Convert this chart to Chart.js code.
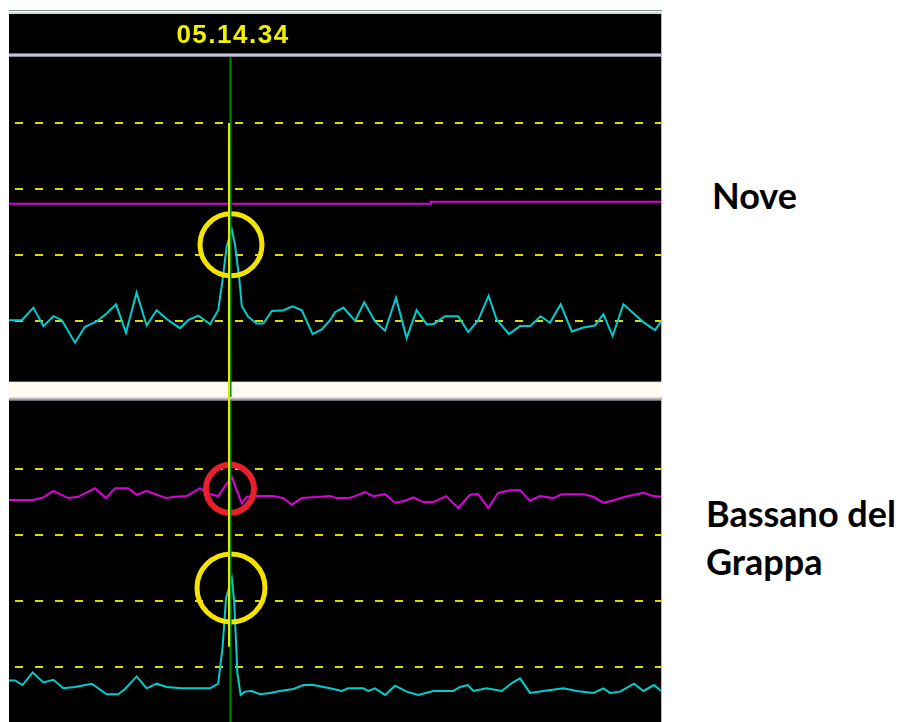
<!DOCTYPE html>
<html>
<head>
<meta charset="utf-8">
<script src="https://cdn.jsdelivr.net/npm/chart.js@4/dist/chart.umd.min.js"></script>
<style>
  html, body { margin: 0; padding: 0; background: #ffffff; width: 907px; height: 722px; overflow: hidden; }
  .panel { position: absolute; }
  .site {
    position: absolute;
    font-family: Lato, "Open Sans", sans-serif;
    font-weight: 700;
    font-size: 36px;
    line-height: 36px;
    color: #000;
    white-space: nowrap;
  }
</style>
</head>
<body>
<div class="panel" style="left:9px;top:10px;width:654px;height:387px"><canvas id="nove" width="654" height="387"></canvas></div>
<div class="panel" style="left:9px;top:397px;width:654px;height:325px"><canvas id="bassano" width="654" height="325"></canvas></div>
<div class="site" style="left:712px;top:177px">Nove</div>
<div class="site" style="left:706px;top:495px">Bassano del</div>
<div class="site" style="left:706px;top:543px">Grappa</div>

<script>
// ---- time axis (sample index) and marked event ----
const sampleRange = [0, 163];
const eventSample = 55;
const eventTime = '05.14.34';

// ---- Nove station ----
const noveRange = [0.1, 5.0];
const noveGrid = [1, 2, 3, 4];
const noveCyanX = [0, 3.2, 6.1, 8.6, 11.1, 13.2, 16.5, 19.0, 21.9, 24.4, 26.75, 29.25, 31.9, 34.4, 36.9, 39.8, 42.75, 44.8, 47.3, 50.25,
  52.3, 53.4, 54.4, 55.7, 56.5, 57.6, 58.2, 59.8, 61.9, 63.6, 65.7, 68.6, 70.9, 73.2, 75.9, 78.2, 80.25, 81.5, 83.6, 86.5,
  88.8, 91.5, 94.0, 96.75, 99.4, 101.9, 104.4, 106.1, 109.0, 112.3, 114.8, 117.3, 119.9, 121.9, 125.0, 127.75, 130.25, 132.9, 135.25, 137.9,
  140.7, 143.6, 146.5, 148.6, 150.9, 153.6, 158.6, 161.5, 163];
const noveCyanY = [1.02, 1.02, 1.21, 0.93, 1.08, 1.02, 0.68, 0.92, 1.00, 1.12, 1.26, 0.83, 1.44, 0.94, 1.17, 1.02, 0.90, 1.02, 1.09, 0.96,
  1.17, 1.63, 2.13, 2.39, 2.16, 1.63, 1.23, 1.07, 0.97, 0.97, 1.16, 1.17, 1.23, 1.17, 0.81, 0.88, 1.02, 1.14, 1.21, 1.01,
  1.29, 1.00, 0.86, 1.36, 0.75, 1.17, 0.96, 0.96, 1.08, 1.08, 0.84, 1.02, 1.39, 1.03, 0.81, 0.93, 0.93, 1.08, 0.98, 1.26,
  0.85, 0.91, 0.94, 1.11, 0.78, 1.26, 0.99, 0.87, 1.00];
const noveMagentaX = [0, 105.5, 105.5, 163];
const noveMagentaY = [2.78, 2.78, 2.81, 2.81];
const noveMarkX = [55.5];
const noveMarkY = [2.16];

// ---- Bassano del Grappa station ----
const bassRange = [0.17, 5.03];
const bassGrid = [1, 2, 3, 4];
const bassMagentaX = [0, 6.1, 8.6, 11.1, 14.8, 17.3, 21.5, 24.25, 26.5, 29.8, 31.9, 34.4, 36.9, 39.4, 41.5, 44.4, 47.75, 49.8, 52.3, 54.0,
  55.7, 56.9, 58.2, 59.4, 61.9, 66.1, 68.6, 70.7, 73.2, 77.75, 80.25, 81.9, 84.8, 86.5, 89.0, 91.1, 94.0, 96.5, 99.0, 101.1,
  103.6, 106.1, 109.25, 112.3, 115.25, 117.3, 119.8, 122.3, 125.25, 127.75, 130.25, 132.75, 136.1, 138.2, 143.6, 146.1, 148.6, 150.7, 154.0, 158.6,
  161.1, 163];
const bassMagentaY = [3.53, 3.53, 3.57, 3.67, 3.56, 3.58, 3.71, 3.56, 3.71, 3.71, 3.61, 3.67, 3.61, 3.56, 3.58, 3.59, 3.71, 3.63, 3.59, 3.74,
  3.88, 3.68, 3.48, 3.58, 3.59, 3.59, 3.56, 3.46, 3.56, 3.58, 3.59, 3.56, 3.56, 3.59, 3.65, 3.59, 3.62, 3.49, 3.52, 3.57,
  3.50, 3.50, 3.59, 3.41, 3.61, 3.62, 3.41, 3.64, 3.68, 3.68, 3.52, 3.59, 3.56, 3.62, 3.62, 3.58, 3.49, 3.52, 3.58, 3.64,
  3.59, 3.58];
const bassCyanX = [0, 1.5, 3.4, 5.9, 8.6, 11.1, 13.6, 16.5, 20.7, 24.4, 27.3, 29.0, 31.9, 34.4, 36.9, 39.4, 43.2, 50.25, 52.3, 53.4,
  54.25, 55.7, 56.3, 57.1, 57.9, 59.0, 60.7, 62.75, 65.25, 67.75, 71.1, 73.6, 76.1, 80.25, 83.2, 84.8, 88.6, 89.8, 91.5, 94.0,
  96.5, 99.4, 102.3, 106.1, 111.1, 112.75, 114.7, 116.1, 119.4, 123.2, 125.7, 127.75, 130.25, 133.6, 138.6, 141.9, 146.1, 148.6, 150.25, 152.75,
  156.25, 158.6, 161.25, 163];
const bassCyanY = [0.80, 0.80, 0.73, 0.92, 0.77, 0.81, 0.68, 0.70, 0.75, 0.59, 0.59, 0.67, 0.86, 0.68, 0.75, 0.70, 0.68, 0.68, 0.75, 1.31,
  2.04, 2.35, 1.99, 0.91, 0.58, 0.63, 0.64, 0.59, 0.61, 0.64, 0.67, 0.73, 0.73, 0.68, 0.64, 0.68, 0.68, 0.64, 0.68, 0.58,
  0.72, 0.63, 0.58, 0.64, 0.64, 0.70, 0.73, 0.64, 0.68, 0.64, 0.76, 0.83, 0.61, 0.64, 0.68, 0.64, 0.61, 0.68, 0.61, 0.63,
  0.75, 0.64, 0.73, 0.64];
const bassMarkX = [55.25, 55.5];
const bassMarkY = [3.70, 2.20];

// where the event cursor's yellow segment starts (top panel) and ends (bottom panel)
const cursorTopLevel = 4;
const cursorBottomLevel = 1.31;

const CYAN = '#00cdcd';
const MAGENTA = '#dc00dc';
const GRID_YELLOW = '#dcdc00';
const CURSOR_YELLOW = '#e6e600';
const CURSOR_GREEN = '#008a00';

const pts = (xs, ys) => xs.map((x, i) => ({ x, y: ys[i] }));

function trace(xs, ys, color) {
  return {
    type: 'line', data: pts(xs, ys), borderColor: color, borderWidth: 2,
    pointRadius: 0, tension: 0, fill: false, order: 2
  };
}
function rings(xs, ys, colors, radii, widths) {
  return {
    type: 'scatter', data: pts(xs, ys), showLine: false, order: 0,
    pointStyle: 'circle', pointRadius: radii, pointHoverRadius: radii,
    borderColor: colors, borderWidth: widths, backgroundColor: 'rgba(0,0,0,0)'
  };
}

// panel chrome: background, dashed level lines, event cursor
const panelChrome = {
  id: 'panelChrome',
  beforeDraw(chart, args, opts) {
    const { ctx, chartArea: a, width, height } = chart;
    ctx.save();
    ctx.fillStyle = '#ffffff';
    ctx.fillRect(0, 0, width, height);
    if (opts.header) {
      ctx.fillStyle = '#7c9090'; ctx.fillRect(0, 0, a.right + 1, 1);
      ctx.fillStyle = '#d8d8d8'; ctx.fillRect(0, 2, a.right + 1, 2);
      ctx.fillStyle = '#000000'; ctx.fillRect(0, 4, a.right, a.top - 4);
      ctx.fillStyle = '#6c6c84'; ctx.fillRect(0, a.top - 4, a.right, 1);
      ctx.fillStyle = '#c4c4d4'; ctx.fillRect(0, a.top - 3, a.right, 2);
      ctx.fillStyle = '#8a8aa0'; ctx.fillRect(0, a.top - 1, a.right, 1);
    } else {
      const g = ctx.createLinearGradient(0, 0, 0, a.top);
      g.addColorStop(0, '#f2eee4');
      g.addColorStop(0.5, '#b4b4bc');
      g.addColorStop(1, '#50505c');
      ctx.fillStyle = g; ctx.fillRect(0, 0, a.right, a.top);
    }
    ctx.fillStyle = '#000000';
    ctx.fillRect(a.left, a.top, a.right - a.left, a.bottom - a.top);
    if (a.bottom < height) {
      ctx.fillStyle = '#5a5040'; ctx.fillRect(0, a.bottom, a.right, 1);
      ctx.fillStyle = '#fffbf0'; ctx.fillRect(0, a.bottom + 1, a.right, height - a.bottom - 1);
    }
    ctx.fillStyle = '#b8b8b8';
    ctx.fillRect(a.right, opts.header ? 4 : 0, 1, a.bottom - (opts.header ? 4 : 0));
    // dashed level lines
    const ys = chart.scales.y;
    ctx.strokeStyle = GRID_YELLOW; ctx.lineWidth = 2;
    ctx.setLineDash([8, 12]); ctx.lineDashOffset = 14;
    opts.levels.forEach(v => {
      const py = Math.round(ys.getPixelForValue(v));
      ctx.beginPath(); ctx.moveTo(a.left, py); ctx.lineTo(a.right, py); ctx.stroke();
    });
    ctx.restore();
  },
  afterDatasetsDraw(chart, args, opts) {
    const { ctx, chartArea: a, height } = chart;
    const px = Math.round(chart.scales.x.getPixelForValue(eventSample));
    ctx.save();
    ctx.lineWidth = 2;
    ctx.strokeStyle = CURSOR_GREEN;
    ctx.beginPath(); ctx.moveTo(px + 1.5, a.top); ctx.lineTo(px + 1.5, height); ctx.stroke();
    const yTop = opts.cursorFrom != null ? chart.scales.y.getPixelForValue(opts.cursorFrom) : 0;
    const yBot = opts.cursorTo != null ? chart.scales.y.getPixelForValue(opts.cursorTo) : height;
    ctx.strokeStyle = CURSOR_YELLOW;
    ctx.beginPath(); ctx.moveTo(px, yTop); ctx.lineTo(px, yBot); ctx.stroke();
    if (opts.header) {
      // event time stamp, centred over the cursor in the header band
      ctx.fillStyle = '#f0f000';
      ctx.font = 'bold 26px "Liberation Sans", Arial, sans-serif';
      ctx.letterSpacing = '1.5px';
      ctx.textAlign = 'center';
      ctx.textBaseline = 'alphabetic';
      ctx.fillText(eventTime, px + 4, a.top - 14);
    }
    ctx.restore();
  }
};

function makeChart(id, datasets, yRange, padTop, padBottom, chromeOpts) {
  return new Chart(document.getElementById(id), {
    data: { datasets },
    options: {
      responsive: false, animation: false, events: [],
      layout: { autoPadding: false, padding: { top: padTop, bottom: padBottom, left: 0, right: 2 } },
      scales: {
        x: { type: 'linear', min: sampleRange[0], max: sampleRange[1], display: false },
        y: { type: 'linear', min: yRange[0], max: yRange[1], display: false }
      },
      plugins: { legend: { display: false }, tooltip: { enabled: false }, panelChrome: chromeOpts }
    },
    plugins: [panelChrome]
  });
}

makeChart('nove', [
  trace(noveMagentaX, noveMagentaY, MAGENTA),
  trace(noveCyanX, noveCyanY, CYAN),
  rings(noveMarkX, noveMarkY, ['#f2e400'], [31], [5])
], noveRange, 47, 16, { header: true, levels: noveGrid, cursorFrom: cursorTopLevel });

makeChart('bassano', [
  trace(bassMagentaX, bassMagentaY, MAGENTA),
  trace(bassCyanX, bassCyanY, CYAN),
  rings(bassMarkX, bassMarkY, ['#e8202a', '#f2e400'], [24, 34], [6, 5])
], bassRange, 4, 0, { header: false, levels: bassGrid, cursorTo: cursorBottomLevel });
</script>
</body>
</html>
